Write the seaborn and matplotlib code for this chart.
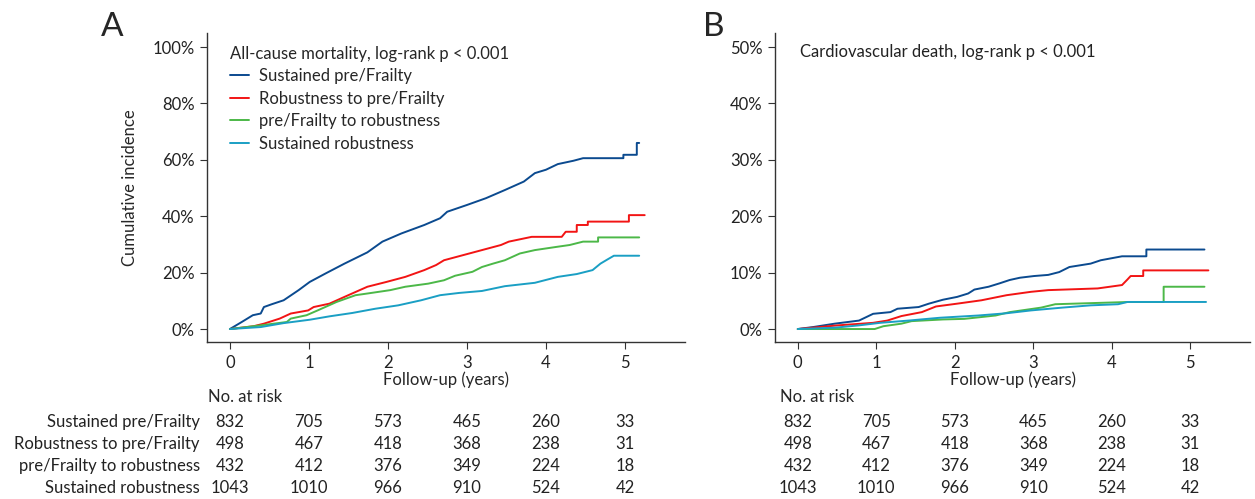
import pandas as pd
import numpy as np
import seaborn as sns
import matplotlib.pyplot as plt
from matplotlib.lines import Line2D
from matplotlib.transforms import blended_transform_factory

# Groups and colours
groups = ['Sustained pre/Frailty', 'Robustness to pre/Frailty',
          'pre/Frailty to robustness', 'Sustained robustness']
colors = ['#0b4a8f', '#f21414', '#4cb848', '#1a9fc4']

# All-cause mortality curves (years, cumulative incidence %), vertices
all_t_frail = [0, 0.15, 0.29, 0.39, 0.43, 0.53, 0.68, 0.87, 1.01, 1.21, 1.45, 1.74, 1.93, 2.17, 2.46,
               2.66, 2.75, 3.0, 3.24, 3.48, 3.72, 3.86, 4.0, 4.15, 4.35, 4.47, 4.98, 4.98, 5.15, 5.15, 5.18]
all_y_frail = [0, 2.5, 4.9, 5.5, 7.8, 8.8, 10.2, 13.8, 16.7, 19.7, 23.2, 27.2, 31.0, 33.9, 36.9,
               39.3, 41.6, 44.0, 46.4, 49.3, 52.3, 55.3, 56.5, 58.5, 59.7, 60.6, 60.6, 61.8, 61.8, 66.0, 66.0]
all_t_rob2frail = [0, 0.15, 0.3, 0.43, 0.63, 0.77, 0.99, 1.06, 1.26, 1.45, 1.74, 1.98, 2.22, 2.46, 2.61,
                   2.71, 2.95, 3.19, 3.43, 3.53, 3.82, 4.2, 4.25, 4.39, 4.39, 4.53, 4.53, 5.05, 5.05, 5.25]
all_y_rob2frail = [0, 0.5, 1.0, 1.9, 3.7, 5.5, 6.6, 7.8, 9.0, 11.4, 15.0, 16.7, 18.5, 20.9, 22.7,
                   24.4, 26.2, 28.0, 29.8, 31.0, 32.7, 32.7, 34.5, 34.5, 36.9, 36.9, 38.1, 38.1, 40.4, 40.4]
all_t_frail2rob = [0, 0.39, 0.72, 0.77, 0.97, 1.11, 1.35, 1.59, 1.74, 2.03, 2.22, 2.51, 2.71, 2.85,
                   3.07, 3.19, 3.33, 3.48, 3.67, 3.86, 4.15, 4.3, 4.47, 4.66, 4.66, 5.18]
all_y_frail2rob = [0, 1.3, 2.5, 3.7, 4.9, 6.6, 9.6, 12.0, 12.6, 13.8, 15.0, 16.1, 17.3, 18.9,
                   20.3, 22.0, 23.2, 24.4, 26.8, 28.0, 29.2, 29.8, 31.0, 31.0, 32.5, 32.5]
all_t_rob = [0, 0.39, 0.68, 1.01, 1.26, 1.55, 1.84, 2.13, 2.42, 2.66, 2.9, 3.19, 3.48, 3.86,
             4.15, 4.39, 4.59, 4.69, 4.78, 4.86, 5.18]
all_y_rob = [0, 0.7, 2.1, 3.3, 4.5, 5.7, 7.2, 8.4, 10.2, 12.0, 12.8, 13.5, 15.2, 16.4,
             18.5, 19.5, 20.9, 23.2, 24.7, 26.0, 26.0]

# Cardiovascular death curves
cv_t_frail = [0, 0.2, 0.47, 0.78, 0.96, 1.18, 1.27, 1.54, 1.67, 1.85, 2.03, 2.17, 2.25, 2.43, 2.57,
              2.7, 2.83, 3.01, 3.19, 3.33, 3.46, 3.73, 3.86, 4.13, 4.44, 4.44, 5.18]
cv_y_frail = [0, 0.36, 0.95, 1.5, 2.7, 3.0, 3.6, 3.9, 4.5, 5.2, 5.7, 6.3, 7.0, 7.5, 8.1,
              8.7, 9.1, 9.4, 9.6, 10.1, 11.0, 11.6, 12.2, 12.9, 12.9, 14.1, 14.1]
cv_t_rob2frail = [0, 0.51, 0.96, 1.14, 1.32, 1.58, 1.76, 2.03, 2.34, 2.66, 2.97, 3.19, 3.82, 4.13,
                  4.2, 4.24, 4.4, 4.4, 5.23]
cv_y_rob2frail = [0, 0.65, 1.1, 1.5, 2.3, 3.0, 4.0, 4.5, 5.1, 6.0, 6.6, 6.9, 7.2, 7.8,
                  8.8, 9.4, 9.4, 10.4, 10.4]
cv_t_frail2rob = [0, 0.98, 1.09, 1.32, 1.45, 1.85, 2.12, 2.52, 2.7, 3.1, 3.28, 4.22, 4.66, 4.66, 5.18]
cv_y_frail2rob = [0, 0, 0.5, 0.95, 1.4, 1.7, 1.8, 2.4, 3.0, 3.8, 4.4, 4.8, 4.8, 7.5, 7.5]
cv_t_rob = [0, 0.47, 0.78, 1.05, 1.41, 1.81, 2.3, 2.66, 2.97, 3.37, 3.73, 4.08, 4.2, 5.2]
cv_y_rob = [0, 0.24, 0.65, 1.1, 1.5, 2.0, 2.4, 2.8, 3.3, 3.8, 4.2, 4.4, 4.8, 4.8]

# Numbers at risk
risk_times = [0, 1, 2, 3, 4, 5]
risk_frail = [832, 705, 573, 465, 260, 33]
risk_rob2frail = [498, 467, 418, 368, 238, 31]
risk_frail2rob = [432, 412, 376, 349, 224, 18]
risk_rob = [1043, 1010, 966, 910, 524, 42]
risk_rows = [risk_frail, risk_rob2frail, risk_frail2rob, risk_rob]


def make_df(ts, ys):
    parts = []
    for g, t, y in zip(groups, ts, ys):
        d = pd.DataFrame({'time': t, 'inc': y, 'group': g})
        parts.append(d)
    return pd.concat(parts, ignore_index=True)


df_all = make_df([all_t_frail, all_t_rob2frail, all_t_frail2rob, all_t_rob],
                 [all_y_frail, all_y_rob2frail, all_y_frail2rob, all_y_rob])
df_cv = make_df([cv_t_frail, cv_t_rob2frail, cv_t_frail2rob, cv_t_rob],
                [cv_y_frail, cv_y_rob2frail, cv_y_frail2rob, cv_y_rob])

sns.set_style('white')
plt.rcParams['font.family'] = ['Lato', 'DejaVu Sans']
plt.rcParams['font.size'] = 12

W, H = 1255, 499
fig = plt.figure(figsize=(W / 100, H / 100), dpi=100)


def px_axes(l, t, r, b):
    return fig.add_axes([l / W, 1 - b / H, (r - l) / W, (b - t) / H])


axA = px_axes(207, 33, 685, 342)
axB = px_axes(775, 33, 1250, 342)
palette = dict(zip(groups, colors))

for ax, df, ymax, yticks in [(axA, df_all, 100, [0, 20, 40, 60, 80, 100]),
                             (axB, df_cv, 50, [0, 10, 20, 30, 40, 50])]:
    sns.lineplot(data=df, x='time', y='inc', hue='group', units='group', palette=palette,
                 estimator=None, sort=False, linewidth=1.4, legend=False, ax=ax)
    ax.set_xlim(-0.29, 5.76)
    ax.set_ylim(-ymax * 0.046, ymax * 1.05)
    ax.set_xticks(risk_times)
    ax.set_yticks(yticks)
    ax.set_yticklabels([f'{v}%' for v in yticks])
    ax.set_xlabel('Follow-up (years)', labelpad=1)
    ax.set_ylabel('')
    for s in ['top', 'right']:
        ax.spines[s].set_visible(False)
    for s in ['left', 'bottom']:
        ax.spines[s].set_color('#333333')
        ax.spines[s].set_linewidth(1.0)
    ax.tick_params(axis='both', length=5, width=0.8, color='#333333', labelsize=12,
                   labelcolor='#222222', bottom=True, left=True, pad=4)

    # risk table
    trans = blended_transform_factory(ax.transData, fig.transFigure)
    for i, row in enumerate(risk_rows):
        yy = 1 - (422 + 22 * i) / H
        for t, n in zip(risk_times, row):
            fig.text(t, yy, str(n), transform=trans, ha='center', va='center', fontsize=12,
                     color='#222222')

axA.set_ylabel('Cumulative incidence', fontsize=12, labelpad=10)

# legend for A
handles = [Line2D([0], [0], color=c, lw=1.4) for c in colors]
leg = axA.legend(handles, groups, title='All-cause mortality, log-rank p < 0.001',
                 loc='upper left', bbox_to_anchor=(222 / W, 1 - 38 / H),
                 bbox_transform=fig.transFigure, frameon=False, fontsize=12,
                 title_fontsize=12, handlelength=1.1, handletextpad=0.6,
                 labelspacing=0.4, borderpad=0)
leg._legend_box.align = 'left'
leg._legend_box.sep = 4

fig.text(800 / W, 1 - 52 / H, 'Cardiovascular death, log-rank p < 0.001', ha='left',
         va='center', fontsize=12, color='#222222')

# panel letters
fig.text(112 / W, 1 - 27 / H, 'A', ha='center', va='center', fontsize=24)
fig.text(714 / W, 1 - 27 / H, 'B', ha='center', va='center', fontsize=24)

# risk table headings
fig.text(208 / W, 1 - 397 / H, 'No. at risk', ha='left', va='center', fontsize=12)
fig.text(780 / W, 1 - 397 / H, 'No. at risk', ha='left', va='center', fontsize=12)
for i, g in enumerate(groups):
    fig.text(200 / W, 1 - (422 + 22 * i) / H, g, ha='right', va='center', fontsize=12,
             color='#222222')

fig.savefig('out.png', dpi=100)
